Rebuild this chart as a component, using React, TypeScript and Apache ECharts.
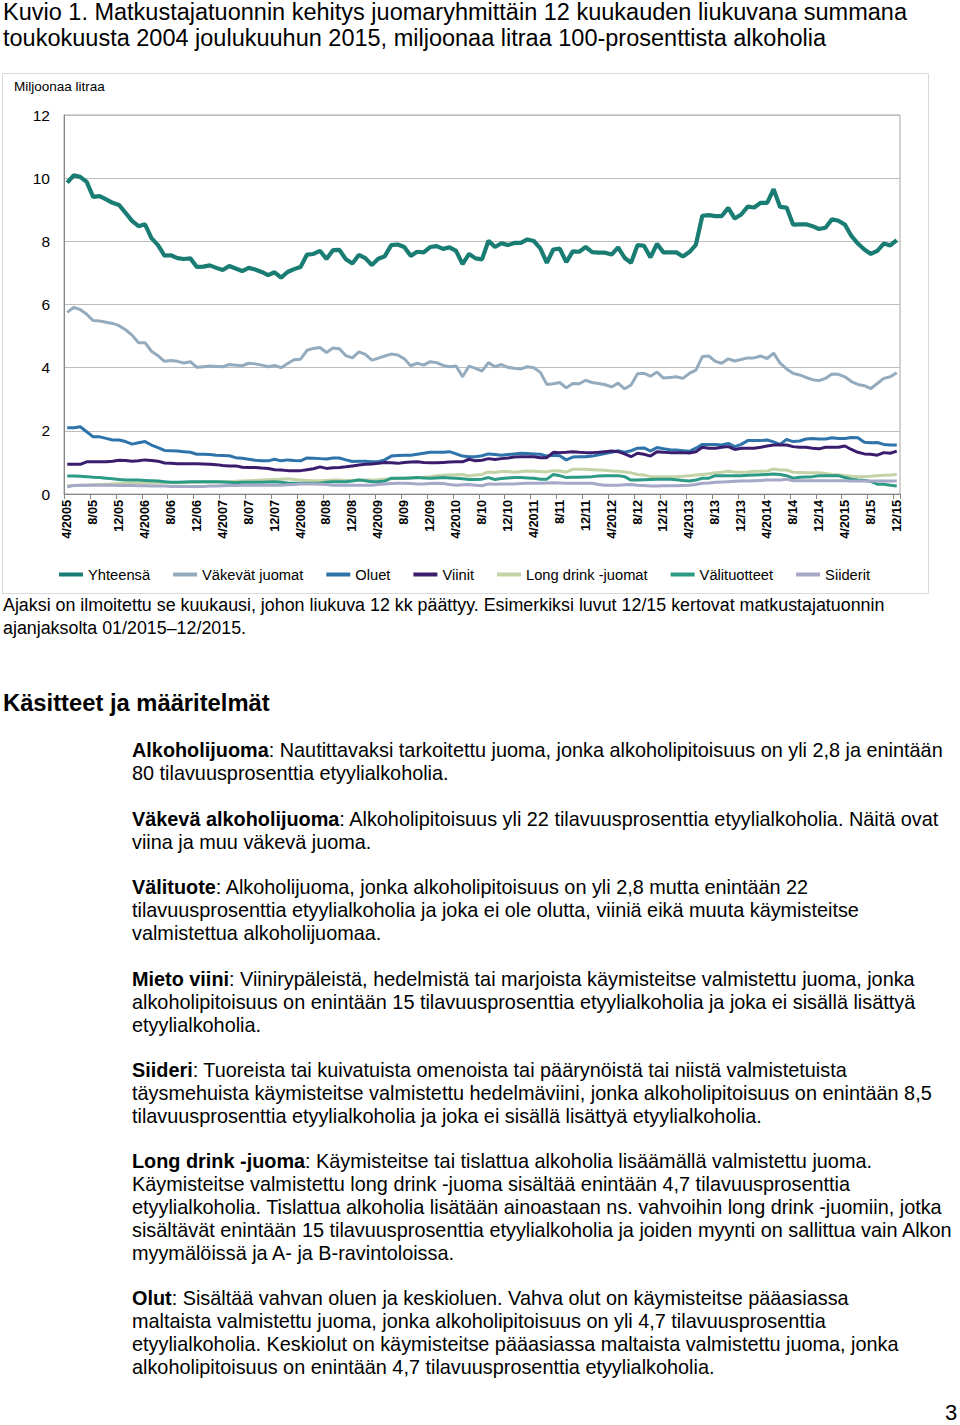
import React, { useEffect, useRef } from "react";
import * as echarts from "echarts";

const FONT = "'Liberation Sans', Arial, Helvetica, sans-serif";

const tickLabels = [
  "4/2005", "8/05", "12/05", "4/2006", "8/06", "12/06", "4/2007", "8/07", "12/07",
  "4/2008", "8/08", "12/08", "4/2009", "8/09", "12/09", "4/2010", "8/10", "12/10",
  "4/2011", "8/11", "12/11", "4/2012", "8/12", "12/12", "4/2013", "8/13", "12/13",
  "4/2014", "8/14", "12/14", "4/2015", "8/15", "12/15",
];

const seriesNames = [
  "Yhteensä", "Väkevät juomat", "Oluet", "Viinit", "Long drink -juomat", "Välituotteet", "Siiderit",
];

const yhteensa = [
  9.86, 10.09, 10.04, 9.88, 9.41, 9.43, 9.33, 9.22, 9.15, 8.90,
  8.65, 8.48, 8.54, 8.10, 7.88, 7.55, 7.56, 7.47, 7.44, 7.46,
  7.19, 7.20, 7.24, 7.16, 7.09, 7.22, 7.14, 7.06, 7.16, 7.11,
  7.03, 6.93, 7.02, 6.85, 7.03, 7.12, 7.19, 7.58, 7.60, 7.70,
  7.44, 7.72, 7.73, 7.43, 7.30, 7.57, 7.47, 7.25, 7.45, 7.53,
  7.88, 7.90, 7.82, 7.54, 7.67, 7.65, 7.82, 7.85, 7.76, 7.81,
  7.70, 7.28, 7.60, 7.46, 7.43, 8.02, 7.82, 7.94, 7.88, 7.95,
  7.95, 8.06, 8.01, 7.78, 7.32, 7.74, 7.77, 7.34, 7.68, 7.67,
  7.82, 7.66, 7.64, 7.64, 7.58, 7.81, 7.48, 7.32, 7.88, 7.86,
  7.49, 7.92, 7.65, 7.65, 7.65, 7.52, 7.66, 7.89, 8.81, 8.83,
  8.80, 8.80, 9.06, 8.72, 8.85, 9.10, 9.07, 9.22, 9.22, 9.65,
  9.09, 9.07, 8.53, 8.54, 8.54, 8.48, 8.39, 8.43, 8.70, 8.65,
  8.53, 8.17, 7.93, 7.74, 7.60, 7.70, 7.93, 7.87, 8.04,
];

const vakevat = [
  5.75, 5.91, 5.84, 5.69, 5.49, 5.48, 5.44, 5.40, 5.33, 5.20,
  5.03, 4.79, 4.79, 4.52, 4.38, 4.20, 4.23, 4.20, 4.15, 4.19,
  4.01, 4.03, 4.05, 4.04, 4.03, 4.10, 4.08, 4.06, 4.14, 4.12,
  4.08, 4.03, 4.07, 4.00, 4.13, 4.25, 4.27, 4.55, 4.61, 4.64,
  4.48, 4.62, 4.60, 4.38, 4.31, 4.50, 4.42, 4.24, 4.30, 4.37,
  4.43, 4.40, 4.28, 4.06, 4.14, 4.08, 4.19, 4.16, 4.07, 4.03,
  4.05, 3.71, 4.05, 3.98, 3.89, 4.16, 4.03, 4.10, 4.01, 3.98,
  3.96, 4.03, 4.00, 3.85, 3.47, 3.49, 3.53, 3.36, 3.50, 3.49,
  3.60, 3.53, 3.50, 3.46, 3.39, 3.51, 3.33, 3.45, 3.81, 3.82,
  3.73, 3.86, 3.67, 3.69, 3.71, 3.66, 3.82, 3.92, 4.35, 4.37,
  4.20, 4.14, 4.28, 4.21, 4.26, 4.31, 4.31, 4.37, 4.29, 4.46,
  4.14, 3.96, 3.82, 3.77, 3.69, 3.62, 3.59, 3.66, 3.80, 3.79,
  3.71, 3.56, 3.47, 3.43, 3.34, 3.50, 3.66, 3.71, 3.84,
];

const oluet = [
  2.10, 2.10, 2.13, 1.97, 1.81, 1.81, 1.76, 1.71, 1.71, 1.66,
  1.58, 1.62, 1.66, 1.55, 1.47, 1.38, 1.37, 1.36, 1.34, 1.32,
  1.26, 1.26, 1.25, 1.23, 1.22, 1.21, 1.15, 1.13, 1.10, 1.07,
  1.05, 1.05, 1.10, 1.05, 1.08, 1.06, 1.05, 1.14, 1.13, 1.12,
  1.11, 1.14, 1.14, 1.08, 1.03, 1.04, 1.04, 1.02, 1.02, 1.08,
  1.20, 1.22, 1.23, 1.23, 1.26, 1.29, 1.32, 1.32, 1.32, 1.34,
  1.27, 1.20, 1.18, 1.18, 1.21, 1.27, 1.25, 1.23, 1.25, 1.27,
  1.29, 1.28, 1.27, 1.26, 1.20, 1.23, 1.21, 1.08, 1.17, 1.18,
  1.18, 1.20, 1.24, 1.28, 1.32, 1.37, 1.32, 1.37, 1.45, 1.46,
  1.36, 1.47, 1.43, 1.40, 1.39, 1.37, 1.35, 1.45, 1.57, 1.57,
  1.57, 1.55, 1.60, 1.50, 1.57, 1.69, 1.69, 1.69, 1.71, 1.65,
  1.57, 1.73, 1.66, 1.68, 1.74, 1.76, 1.74, 1.74, 1.78, 1.76,
  1.76, 1.79, 1.78, 1.64, 1.62, 1.63, 1.57, 1.55, 1.55,
];

const viinit = [
  0.94, 0.94, 0.94, 1.02, 1.02, 1.02, 1.02, 1.04, 1.07, 1.06,
  1.04, 1.05, 1.08, 1.06, 1.04, 0.98, 0.97, 0.96, 0.96, 0.96,
  0.96, 0.95, 0.94, 0.93, 0.90, 0.89, 0.89, 0.85, 0.84, 0.84,
  0.82, 0.81, 0.77, 0.76, 0.74, 0.74, 0.74, 0.77, 0.80, 0.86,
  0.81, 0.83, 0.84, 0.86, 0.89, 0.92, 0.94, 0.95, 0.97, 1.00,
  0.99, 0.97, 1.00, 1.01, 1.02, 1.00, 0.99, 0.99, 1.00, 1.01,
  1.02, 1.02, 1.10, 1.05, 1.07, 1.12, 1.09, 1.12, 1.14, 1.17,
  1.18, 1.18, 1.18, 1.15, 1.15, 1.32, 1.31, 1.32, 1.34, 1.32,
  1.31, 1.31, 1.32, 1.34, 1.36, 1.34, 1.27, 1.18, 1.29, 1.26,
  1.20, 1.34, 1.32, 1.31, 1.31, 1.31, 1.30, 1.34, 1.48, 1.45,
  1.45, 1.48, 1.50, 1.41, 1.45, 1.45, 1.45, 1.48, 1.52, 1.55,
  1.55, 1.55, 1.50, 1.48, 1.48, 1.45, 1.43, 1.48, 1.48, 1.48,
  1.52, 1.41, 1.32, 1.27, 1.26, 1.23, 1.31, 1.29, 1.36,
];

const longDrink = [
  0.26, 0.27, 0.28, 0.28, 0.29, 0.30, 0.31, 0.32, 0.33, 0.34,
  0.35, 0.35, 0.35, 0.35, 0.35, 0.36, 0.36, 0.36, 0.36, 0.37,
  0.37, 0.38, 0.38, 0.38, 0.39, 0.39, 0.40, 0.41, 0.42, 0.43,
  0.44, 0.45, 0.46, 0.47, 0.48, 0.46, 0.44, 0.43, 0.42, 0.42,
  0.43, 0.44, 0.44, 0.43, 0.43, 0.44, 0.44, 0.44, 0.45, 0.47,
  0.48, 0.50, 0.50, 0.51, 0.52, 0.53, 0.55, 0.58, 0.59, 0.60,
  0.61, 0.62, 0.57, 0.60, 0.62, 0.70, 0.68, 0.71, 0.71, 0.69,
  0.71, 0.73, 0.72, 0.71, 0.70, 0.74, 0.73, 0.69, 0.78, 0.78,
  0.78, 0.77, 0.76, 0.75, 0.73, 0.72, 0.70, 0.67, 0.62, 0.60,
  0.55, 0.55, 0.55, 0.55, 0.55, 0.56, 0.58, 0.60, 0.62, 0.64,
  0.67, 0.69, 0.72, 0.70, 0.69, 0.70, 0.72, 0.72, 0.73, 0.79,
  0.76, 0.76, 0.69, 0.68, 0.67, 0.67, 0.67, 0.65, 0.62, 0.61,
  0.58, 0.56, 0.55, 0.55, 0.56, 0.58, 0.59, 0.60, 0.62,
];

const valituotteet = [
  0.57, 0.57, 0.56, 0.55, 0.53, 0.52, 0.50, 0.48, 0.46, 0.44,
  0.44, 0.44, 0.43, 0.42, 0.41, 0.39, 0.37, 0.37, 0.38, 0.39,
  0.39, 0.39, 0.39, 0.39, 0.38, 0.37, 0.36, 0.37, 0.37, 0.37,
  0.37, 0.38, 0.39, 0.37, 0.35, 0.34, 0.34, 0.34, 0.34, 0.34,
  0.37, 0.39, 0.39, 0.39, 0.41, 0.44, 0.42, 0.39, 0.39, 0.41,
  0.50, 0.50, 0.50, 0.51, 0.52, 0.51, 0.50, 0.51, 0.52, 0.51,
  0.50, 0.48, 0.46, 0.46, 0.47, 0.52, 0.46, 0.49, 0.51, 0.52,
  0.52, 0.51, 0.50, 0.47, 0.47, 0.62, 0.58, 0.52, 0.53, 0.53,
  0.54, 0.55, 0.57, 0.58, 0.58, 0.58, 0.55, 0.44, 0.44, 0.45,
  0.46, 0.47, 0.47, 0.47, 0.45, 0.43, 0.41, 0.44, 0.50, 0.50,
  0.58, 0.58, 0.58, 0.58, 0.58, 0.59, 0.60, 0.61, 0.62, 0.63,
  0.62, 0.58, 0.50, 0.53, 0.54, 0.55, 0.58, 0.58, 0.58, 0.58,
  0.52, 0.47, 0.44, 0.43, 0.40, 0.31, 0.31, 0.28, 0.25,
];

const siiderit = [
  0.23, 0.27, 0.28, 0.28, 0.28, 0.28, 0.28, 0.28, 0.27, 0.27,
  0.27, 0.26, 0.26, 0.25, 0.25, 0.25, 0.24, 0.24, 0.24, 0.24,
  0.24, 0.24, 0.25, 0.25, 0.26, 0.27, 0.27, 0.28, 0.28, 0.28,
  0.28, 0.28, 0.28, 0.28, 0.29, 0.30, 0.32, 0.32, 0.32, 0.31,
  0.30, 0.28, 0.28, 0.28, 0.28, 0.28, 0.28, 0.28, 0.30, 0.32,
  0.33, 0.34, 0.34, 0.33, 0.32, 0.32, 0.33, 0.34, 0.33, 0.30,
  0.28, 0.29, 0.30, 0.28, 0.26, 0.32, 0.31, 0.32, 0.32, 0.32,
  0.33, 0.34, 0.34, 0.34, 0.35, 0.36, 0.35, 0.34, 0.34, 0.34,
  0.34, 0.34, 0.30, 0.28, 0.28, 0.28, 0.29, 0.30, 0.28, 0.27,
  0.25, 0.25, 0.26, 0.26, 0.26, 0.27, 0.28, 0.30, 0.34, 0.35,
  0.37, 0.38, 0.39, 0.40, 0.41, 0.41, 0.42, 0.43, 0.44, 0.44,
  0.44, 0.47, 0.42, 0.42, 0.42, 0.42, 0.42, 0.42, 0.42, 0.42,
  0.42, 0.41, 0.41, 0.41, 0.41, 0.41, 0.41, 0.41, 0.41,
];

const seriesData = [yhteensa, vakevat, oluet, viinit, longDrink, valituotteet, siiderit];
const seriesColors = ["#1a7d73", "#94abbd", "#2e74aa", "#3b1d6d", "#c4d3a6", "#2d9a86", "#a5a8c6"];
const seriesWidths = [4.2, 3, 3, 3, 3, 3, 3];

const titleLines = [
  "Kuvio 1. Matkustajatuonnin kehitys juomaryhmittäin 12 kuukauden liukuvana summana",
  "toukokuusta 2004 joulukuuhun 2015, miljoonaa litraa 100-prosenttista alkoholia",
];
const noteLines = [
  "Ajaksi on ilmoitettu se kuukausi, johon liukuva 12 kk päättyy. Esimerkiksi luvut 12/15 kertovat matkustajatuonnin",
  "ajanjaksolta 01/2015–12/2015.",
];
const heading = "Käsitteet ja määritelmät";
const definitions = [
  { term: "Alkoholijuoma", lines: [": Nautittavaksi tarkoitettu juoma, jonka alkoholipitoisuus on yli 2,8 ja enintään", "80 tilavuusprosenttia etyylialkoholia."] },
  { term: "Väkevä alkoholijuoma", lines: [": Alkoholipitoisuus yli 22 tilavuusprosenttia etyylialkoholia. Näitä ovat", "viina ja muu väkevä juoma."] },
  { term: "Välituote", lines: [": Alkoholijuoma, jonka alkoholipitoisuus on yli 2,8 mutta enintään 22", "tilavuusprosenttia etyylialkoholia ja joka ei ole olutta, viiniä eikä muuta käymisteitse", "valmistettua alkoholijuomaa."] },
  { term: "Mieto viini", lines: [": Viinirypäleistä, hedelmistä tai marjoista käymisteitse valmistettu juoma, jonka", "alkoholipitoisuus on enintään 15 tilavuusprosenttia etyylialkoholia ja joka ei sisällä lisättyä", "etyylialkoholia."] },
  { term: "Siideri", lines: [": Tuoreista tai kuivatuista omenoista tai päärynöistä tai niistä valmistetuista", "täysmehuista käymisteitse valmistettu hedelmäviini, jonka alkoholipitoisuus on enintään 8,5", "tilavuusprosenttia etyylialkoholia ja joka ei sisällä lisättyä etyylialkoholia."] },
  { term: "Long drink -juoma", lines: [": Käymisteitse tai tislattua alkoholia lisäämällä valmistettu juoma.", "Käymisteitse valmistettu long drink -juoma sisältää enintään 4,7 tilavuusprosenttia", "etyylialkoholia. Tislattua alkoholia lisätään ainoastaan ns. vahvoihin long drink -juomiin, jotka", "sisältävät enintään 15 tilavuusprosenttia etyylialkoholia ja joiden myynti on sallittua vain Alkon", "myymälöissä ja A- ja B-ravintoloissa."] },
  { term: "Olut", lines: [": Sisältää vahvan oluen ja keskioluen. Vahva olut on käymisteitse pääasiassa", "maltaista valmistettu juoma, jonka alkoholipitoisuus on yli 4,7 tilavuusprosenttia", "etyylialkoholia. Keskiolut on käymisteitse pääasiassa maltaista valmistettu juoma, jonka", "alkoholipitoisuus on enintään 4,7 tilavuusprosenttia etyylialkoholia."] },
];
const definitionTops = [750, 819, 887, 979, 1070, 1161, 1298];

const categories: string[] = [];
for (let k = 0; k < yhteensa.length; k++) {
  const m = ((3 + k) % 12) + 1;
  const y = 2005 + Math.floor((3 + k) / 12);
  categories.push(`${m}/${y}`);
}

function textEl(text: string, x: number, y: number, fontSize: number, extra: any = {}) {
  return {
    type: "text",
    x,
    y,
    style: {
      text,
      fontSize,
      fontFamily: FONT,
      fill: "#000",
      align: "left",
      verticalAlign: "middle",
      ...extra,
    },
  };
}

function buildOption() {
  const BODY = 19.85;
  const LH = 22.9;
  const graphics: any[] = [
    {
      type: "rect",
      shape: { x: 2.5, y: 73.5, width: 926, height: 520 },
      style: { fill: "none", stroke: "#d9d9d9", lineWidth: 1 },
      silent: true,
    },
    textEl(titleLines[0], 3, 12, 23.5),
    textEl(titleLines[1], 3, 37.5, 23.5),
    textEl("Miljoonaa litraa", 14, 86, 13.5),
    textEl(noteLines[0], 3, 605, 17.85),
    textEl(noteLines[1], 3, 628, 17.85),
    textEl(heading, 3, 702, 23.75, { fontWeight: "bold" }),
    textEl("3", 945, 1412, 22),
  ];

  definitions.forEach((d, i) => {
    const txt =
      `{b|${d.term}}{r|${d.lines[0]}}` +
      d.lines.slice(1).map((l) => `\n{r|${l}}`).join("");
    graphics.push({
      type: "text",
      x: 132,
      y: definitionTops[i] - LH / 2,
      style: {
        text: txt,
        fontSize: BODY,
        lineHeight: LH,
        fontFamily: FONT,
        fill: "#000",
        align: "left",
        verticalAlign: "top",
        rich: {
          b: { fontSize: BODY, fontWeight: "bold", fontFamily: FONT, lineHeight: LH, fill: "#000" },
          r: { fontSize: BODY, fontFamily: FONT, lineHeight: LH, fill: "#000" },
        },
      },
    });
  });

  return {
    animation: false,
    backgroundColor: "#ffffff",
    textStyle: { fontFamily: FONT },
    grid: {
      left: 64,
      right: 60,
      top: 115,
      bottom: 1425 - 494,
      containLabel: false,
      show: true,
      borderColor: "#a6a6a6",
      borderWidth: 1,
    },
    legend: {
      left: 59,
      top: 567,
      padding: 0,
      icon: "rect",
      itemWidth: 24,
      itemHeight: 4,
      itemGap: 23,
      textStyle: { fontSize: 14.7, color: "#000", fontFamily: FONT },
      data: seriesNames,
    },
    xAxis: {
      type: "category",
      data: categories,
      boundaryGap: true,
      axisLine: { lineStyle: { color: "#868686", width: 1 } },
      axisTick: { show: true, interval: 3, length: 5, lineStyle: { color: "#868686" } },
      axisLabel: {
        interval: 3,
        rotate: 90,
        fontSize: 12.7,
        fontWeight: "bold",
        color: "#000",
        margin: 6,
        fontFamily: FONT,
        formatter: (_v: string, idx: number) => (idx % 4 === 0 ? tickLabels[idx / 4] : ""),
      },
      splitLine: { show: false },
    },
    yAxis: {
      type: "value",
      min: 0,
      max: 12,
      interval: 2,
      axisLine: { show: true, lineStyle: { color: "#868686" } },
      axisTick: { show: false },
      axisLabel: { fontSize: 15.5, color: "#000", margin: 14, fontFamily: FONT },
      splitLine: { show: true, lineStyle: { color: "#bdbdbd", width: 1 } },
    },
    series: seriesNames.map((name, i) => ({
      type: "line",
      name,
      data: seriesData[i],
      symbol: "none",
      showSymbol: false,
      lineStyle: { width: seriesWidths[i], color: seriesColors[i] },
      itemStyle: { color: seriesColors[i] },
      z: 2,
    })),
    graphic: { elements: graphics },
  };
}

export default function App() {
  const ref = useRef<HTMLDivElement>(null);
  useEffect(() => {
    if (!ref.current) return;
    const chart = echarts.init(ref.current, null, { renderer: "svg" });
    chart.setOption(buildOption() as any);
    return () => chart.dispose();
  }, []);
  return (
    <div style={{ position: "absolute", left: 0, top: 0, width: 960, height: 1425, background: "#fff" }}>
      <div ref={ref} style={{ width: 960, height: 1425 }} />
    </div>
  );
}
